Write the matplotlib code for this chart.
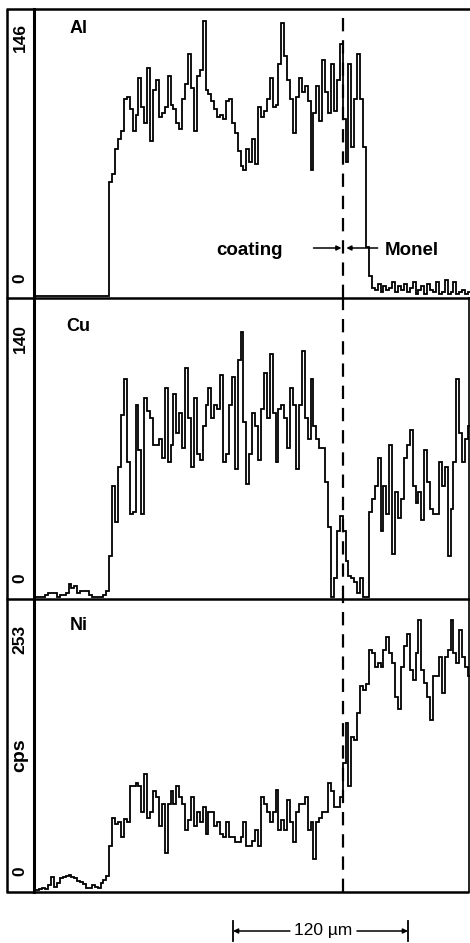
#! /usr/bin/env python3

import numpy as np
import matplotlib.pyplot as plt

plt.rcParams['font.family'] = ['Liberation Sans', 'DejaVu Sans']

# Line scan across coating / Monel, counts per 2 um step
step_um = 2.0
boundary_um = 212.2      # coating / Monel interface
scale_um = 120

al_counts = [0, 0, 0, 0, 0, 0, 0, 0, 0, 0,
             0, 0, 0, 0, 0, 0, 0, 0, 0, 0,
             0, 0, 0, 0, 0, 0, 58, 62, 75, 80,
             84, 100, 101, 95, 84, 92, 111, 96, 88, 116,
             79, 105, 110, 91, 93, 96, 112, 97, 95, 88,
             85, 100, 108, 123, 106, 84, 112, 115, 140, 105,
             103, 99, 95, 91, 92, 90, 99, 100, 88, 83,
             74, 66, 64, 75, 68, 80, 67, 96, 91, 94,
             100, 111, 96, 97, 118, 139, 122, 110, 100, 83,
             101, 111, 104, 107, 99, 64, 93, 107, 89, 120,
             104, 93, 118, 94, 110, 128, 90, 68, 118, 76,
             100, 123, 100, 76, 25, 10, 4, 3, 6, 2,
             5, 3, 4, 7, 2, 5, 3, 6, 2, 4,
             7, 1, 3, 5, 1, 6, 3, 2, 7, 1,
             2, 8, 1, 2, 7, 1, 2, 3, 1, 2]

cu_counts = [0, 0, 0, 0, 1, 2, 2, 2, 0, 1,
             1, 2, 6, 4, 5, 2, 3, 3, 3, 1,
             0, 0, 0, 0, 1, 3, 19, 52, 35, 61,
             85, 102, 63, 39, 40, 90, 69, 39, 93, 87,
             84, 71, 71, 74, 65, 98, 63, 71, 95, 77,
             86, 70, 107, 84, 61, 93, 67, 64, 80, 90,
             98, 84, 90, 88, 104, 63, 67, 90, 103, 60,
             111, 124, 82, 53, 67, 86, 80, 64, 88, 105,
             84, 114, 86, 63, 88, 90, 84, 70, 98, 90,
             60, 90, 115, 84, 74, 102, 80, 74, 70, 70,
             54, 33, 0, 9, 31, 38, 31, 17, 10, 9,
             7, 2, 9, 0, 0, 40, 46, 52, 65, 31,
             52, 39, 71, 20, 49, 37, 46, 65, 71, 78,
             52, 44, 49, 36, 69, 54, 41, 39, 39, 63,
             52, 61, 19, 41, 63, 102, 77, 63, 74, 80]

ni_counts = [0, 0, 1, 2, 1, 4, 11, 3, 6, 10,
             11, 12, 13, 11, 10, 8, 7, 5, 2, 2,
             4, 3, 2, 6, 9, 12, 38, 63, 57, 59,
             46, 62, 59, 90, 90, 93, 90, 68, 101, 63,
             68, 86, 81, 56, 75, 32, 75, 86, 75, 90,
             81, 75, 52, 61, 81, 56, 68, 59, 72, 49,
             68, 68, 56, 59, 49, 46, 59, 46, 46, 42,
             42, 46, 59, 38, 38, 43, 52, 38, 81, 75,
             68, 59, 68, 87, 52, 61, 52, 78, 59, 42,
             68, 75, 75, 81, 52, 59, 27, 59, 63, 68,
             68, 93, 86, 72, 72, 81, 110, 145, 90, 133,
             130, 154, 177, 174, 179, 209, 206, 194, 197, 194,
             209, 220, 206, 197, 168, 157, 194, 212, 223, 191,
             183, 206, 235, 191, 180, 168, 148, 186, 186, 203,
             171, 203, 209, 235, 206, 197, 226, 203, 194, 186]

elements = ["Al", "Cu", "Ni"]
full_scale = [146, 140, 253]
series = [al_counts, cu_counts, ni_counts]


W, H = 470, 943
fig = plt.figure(figsize=(W / 100, H / 100), dpi=100)

# background axes in pixel units for the frame
bg = fig.add_axes([0, 0, 1, 1])
bg.set_xlim(0, W)
bg.set_ylim(H, 0)
bg.axis('off')

left, right = 33.5, 470
rows = [(9, 298), (298, 599), (599, 892)]
frame_kw = dict(color='black', lw=1.8, solid_capstyle='butt')
for y in [9, 298, 599]:
    bg.plot([6, W], [y, y], **frame_kw)
bg.plot([6, 469], [892, 892], **frame_kw)
bg.plot([6.5, 6.5], [9, 892], **frame_kw)
bg.plot([left, left], [9, 892], color='black', lw=2.2)
bg.plot([468.5, 468.5], [298, 892], color='black', lw=1.2)

xmax = (right - left) / (175 / scale_um)
lbl_x = (20 - left) / (right - left)
top_lbl_y = [0.90, 0.867, 0.863]
name_y = [0.934, 0.904, 0.908]

axes = []
for i, ((top, bot), name, fs, vals) in enumerate(zip(rows, elements, full_scale, series)):
    ax = fig.add_axes([left / W, 1 - bot / H, (right - left) / W, (bot - top) / H])
    ax.patch.set_alpha(0)
    ax.axis('off')
    ax.set_xlim(0, xmax)
    lo = -fs * 2.0 / (bot - top - 2)
    ax.set_ylim(lo, fs)
    edges = np.arange(len(vals) + 1) * step_um
    ax.stairs(vals, edges, baseline=None, color='black', lw=1.3)
    ax.axvline(boundary_um, color='black', lw=1.6, ls=(0, (6, 4)))
    ax.text(31, name_y[i], name, transform=ax.get_xaxis_transform(),
            ha='center', va='center', fontsize=13, fontweight='bold')
    ax.text(lbl_x, top_lbl_y[i], str(fs), transform=ax.transAxes, rotation=90,
            ha='center', va='center', fontsize=12.5, fontweight='bold',
            clip_on=False)
    ax.text(lbl_x, 0.07, "0", transform=ax.transAxes, rotation=90,
            ha='center', va='center', fontsize=12.5, fontweight='bold',
            clip_on=False)
    axes.append(ax)

ax_al, ax_cu, ax_ni = axes
ax_ni.text(lbl_x, 0.468, "cps", transform=ax_ni.transAxes, rotation=90,
           ha='center', va='center', fontsize=14, fontweight='bold',
           clip_on=False)

# coating / Monel arrows
tr = ax_al.get_xaxis_transform()
arr = dict(arrowstyle='-|>', color='black', lw=1.1, mutation_scale=7,
           shrinkA=0, shrinkB=0)
ax_al.annotate("", xy=(boundary_um - 1, 0.173), xytext=(192, 0.173),
               xycoords=tr, textcoords=tr, arrowprops=arr)
ax_al.annotate("", xy=(boundary_um + 2.3, 0.173), xytext=(236, 0.173),
               xycoords=tr, textcoords=tr, arrowprops=arr)
ax_al.text(147.8, 0.166, "coating", transform=tr, ha='center', va='center',
           fontsize=13.5, fontweight='bold')
ax_al.text(259.5, 0.166, "Monel", transform=tr, ha='center', va='center',
           fontsize=13.5, fontweight='bold')

# 120 um scale bar below the Ni scan
tr = ax_ni.get_xaxis_transform()
x0 = 136.8
x1 = x0 + scale_um
xm = (x0 + x1) / 2 + 2
ybar = (892 - 931) / 293
ax_ni.annotate("", xy=(x0, ybar), xytext=(xm - 23, ybar), xycoords=tr,
               textcoords=tr, arrowprops=arr, annotation_clip=False)
ax_ni.annotate("", xy=(x1, ybar), xytext=(xm + 23, ybar), xycoords=tr,
               textcoords=tr, arrowprops=arr, annotation_clip=False)
ax_ni.plot([x0, x0], [ybar - 0.035, ybar + 0.035], color='black', lw=1.3,
           transform=tr, clip_on=False)
ax_ni.plot([x1, x1], [ybar - 0.035, ybar + 0.035], color='black', lw=1.3,
           transform=tr, clip_on=False)
ax_ni.text(xm, ybar, "120 \u00b5m", transform=tr, ha='center', va='center',
           fontsize=12.5)

fig.savefig("out.png", dpi=100)
